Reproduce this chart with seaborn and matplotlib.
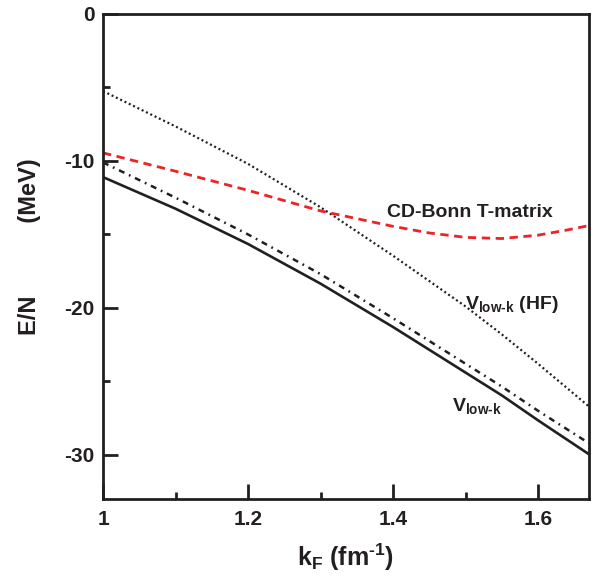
import matplotlib
matplotlib.use("Agg")
import matplotlib.pyplot as plt
import seaborn as sns
import pandas as pd
from matplotlib.ticker import MultipleLocator, FixedLocator

# Fermi momentum grid (fm^-1)
kF = [1.0, 1.1, 1.2, 1.3, 1.4, 1.5, 1.55, 1.6, 1.67]

# Energy per nucleon (MeV)
vlowk = [-11.1, -13.25, -15.65, -18.35, -21.3, -24.4, -25.95, -27.65, -29.95]
vlowk_dd = [-10.1, -12.5, -15.0, -17.7, -20.7, -23.8, -25.35, -27.0, -29.2]
vlowk_hf = [-5.25, -7.65, -10.2, -13.15, -16.45, -19.9, -21.8, -23.8, -26.7]

# CD-Bonn T-matrix curve on its own grid
kF_cdb = [1.0, 1.1, 1.2, 1.3, 1.4, 1.45, 1.5, 1.55, 1.6, 1.64, 1.67]
cdbonn_t = [-9.45, -10.7, -12.0, -13.4, -14.45, -14.9, -15.2, -15.28,
            -15.05, -14.7, -14.4]

xticks = [1.0, 1.2, 1.4, 1.6]
xtick_labels = ["1", "1.2", "1.4", "1.6"]
yticks = [0, -10, -20, -30]
ytick_labels = ["0", "-10", "-20", "-30"]

sns.set_theme(style="ticks")
plt.rcParams["font.family"] = ["Liberation Sans", "DejaVu Sans"]
plt.rcParams["font.weight"] = "bold"
plt.rcParams["mathtext.fontset"] = "custom"
plt.rcParams["mathtext.rm"] = "Liberation Sans:bold"
plt.rcParams["mathtext.it"] = "Liberation Sans:bold"
plt.rcParams["mathtext.bf"] = "Liberation Sans:bold"

ink = "#231f20"
red = "#ec2327"

n = len(kF)
df = pd.DataFrame({
    "kF": kF * 3 + kF_cdb,
    "E": vlowk + vlowk_dd + vlowk_hf + cdbonn_t,
    "curve": (["vlowk"] * n + ["dd"] * n + ["hf"] * n
              + ["cdb"] * len(kF_cdb)),
})

fig = plt.figure(figsize=(5.99, 5.80), dpi=100)
ax = fig.add_axes([0.172, 0.1397, 0.811, 0.8362])

styles = {
    "vlowk": dict(color=ink, lw=1.9, ls="-"),
    "dd": dict(color=ink, lw=1.8, ls=(0, (2.4, 2.0, 0.7, 2.0))),
    "hf": dict(color=ink, lw=1.6, ls=(0, (0.9, 1.25))),
    "cdb": dict(color=red, lw=2.0, ls=(0, (3.0, 2.0))),
}
for name, st in styles.items():
    sub = df[df["curve"] == name]
    sns.lineplot(data=sub, x="kF", y="E", ax=ax, color=st["color"],
                 linewidth=st["lw"], linestyle=st["ls"], legend=False)

ax.set_xlim(1.0, 1.67)
ax.set_ylim(-33, 0)

ax.xaxis.set_major_locator(FixedLocator(xticks))
ax.set_xticklabels(xtick_labels)
ax.xaxis.set_minor_locator(MultipleLocator(0.1))
ax.yaxis.set_major_locator(FixedLocator(yticks))
ax.set_yticklabels(ytick_labels)
ax.yaxis.set_minor_locator(MultipleLocator(5))

ax.tick_params(which="major", direction="in", length=10.5, width=2.0,
               labelsize=15, color=ink, labelcolor=ink,
               top=False, right=False)
ax.tick_params(axis="x", which="major", pad=8)
ax.tick_params(axis="y", which="major", pad=6)
ax.tick_params(which="minor", direction="in", length=5, width=2.0,
               color=ink, top=False, right=False)
for lab in ax.get_xticklabels() + ax.get_yticklabels():
    lab.set_fontweight("bold")

for sp in ax.spines.values():
    sp.set_linewidth(2.0)
    sp.set_color(ink)

ax.set_xlabel(r"k$_{\mathrm{F}}$ (fm$^{\text{-1}}$)", fontsize=18,
              fontweight="bold", color=ink, labelpad=9)
ax.set_ylabel("E/N           (MeV)", fontsize=17, fontweight="bold",
              color=ink, labelpad=13)
ax.yaxis.set_label_coords(-0.128, 0.52)

ax.text(1.506, -13.5, "CD-Bonn T-matrix", fontsize=14, fontweight="bold",
        color=ink, ha="center", va="center")
ax.text(1.499, -19.8, r"V$_{\text{low-k}}$ (HF)", fontsize=14,
        fontweight="bold", color=ink, ha="left", va="center")
ax.text(1.481, -26.7, r"V$_{\text{low-k}}$", fontsize=14,
        fontweight="bold", color=ink, ha="left", va="center")

fig.savefig("out.png", dpi=100)
